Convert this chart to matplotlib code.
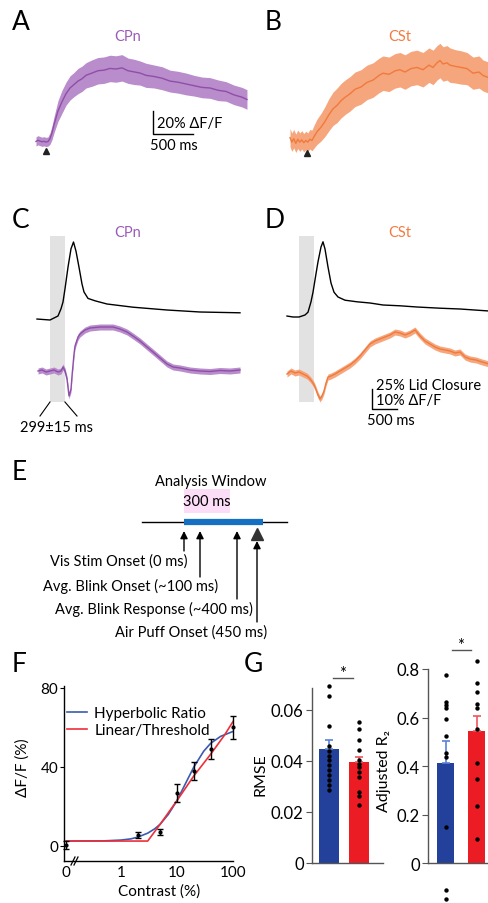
import numpy as np
import matplotlib
matplotlib.use("Agg")
import matplotlib.pyplot as plt
from matplotlib.lines import Line2D
from matplotlib.patches import Rectangle

plt.rcParams['font.family'] = ['Lato', 'DejaVu Sans']
plt.rcParams['axes.linewidth'] = 1.0

W, H = 489, 904

# ==========================================
# DATA
# ==========================================
# --- A: CPn response, time (ms) vs dF/F (%) ---
A_t = [-125, -100, -75, -50, -25, 0, 25, 50, 75, 100, 125, 150, 200, 250, 300, 350, 400, 450, 500,
       575, 650, 725, 800, 875, 950, 1025, 1100, 1175, 1250, 1350, 1450, 1550, 1650, 1750, 1850,
       1950, 2050, 2150, 2250, 2350, 2450, 2512]
A_mean = [0.5, 1.5, 0.8, 0.2, 0.6, 0.0, 0.4, 3, 8, 15, 21, 27, 35, 42, 47, 50, 53, 55, 58,
          60, 62, 62.5, 64, 63.5, 64.5, 62, 61, 60, 58, 57, 55.5, 53, 52, 50.5, 49,
          47.5, 47, 45, 44, 41, 39, 37]
A_sem = [4, 4, 4, 4, 4, 4, 4, 5, 6, 7, 8, 9, 10, 10, 10.5, 10.5, 11, 11, 11,
         11.5, 11.5, 11.5, 11.5, 11.5, 11.5, 11, 11, 10.5, 10.5, 10, 10, 9.5, 9.5, 9.5, 9,
         9, 9, 9, 8.5, 8.5, 8.5, 8.5]

# --- B: CSt response ---
B_t = [-212, -190, -165, -140, -115, -90, -65, -40, -15, 10, 35, 62, 90, 125, 175, 225, 275, 325,
       375, 425, 475, 537, 600, 675, 750, 825, 900, 950, 1025, 1100, 1162, 1225, 1300, 1375,
       1450, 1525, 1575, 1625, 1662, 1700, 1750, 1787, 1850, 1925, 2000, 2075, 2150, 2200, 2275]
B_mean = [3, -1, 2, -2, 1.5, -1, 1, -1.5, 0.5, -1, 1.5, 0.5, 4, 8, 12, 17, 23, 28,
          31, 35, 38, 41, 45, 47, 51, 53, 57, 59, 58, 61, 62, 60, 63, 64,
          62, 66, 64, 68, 70, 67, 68, 66, 65, 64, 63, 59, 60, 57, 55]
B_sem = [8, 8, 8, 8, 8, 8, 8, 8, 8, 8, 8.5, 9, 10, 11, 12, 13, 14, 14.5,
         15, 15, 15, 15, 15, 15, 15, 15, 15, 15, 15, 15, 15, 15, 15, 15,
         15, 15, 15, 15, 15, 15, 15, 15, 14.5, 14.5, 14, 14, 14, 13.5, 13.5]

# --- C: CPn, lid closure (%) and dF/F (%) aligned to blink window ---
C_window = 299
C_lid_t = [-260, 0, 160, 220, 260, 300, 360, 420, 470, 520, 580, 640, 680, 760, 900,
           1140, 1660, 2340, 3000, 3800]
C_lid = [1.2, 0, 5, 14, 22.5, 39, 66, 89, 97.5, 86, 66, 45, 35, 27, 24,
         20, 16, 12.5, 10, 9]
C_t = [-240, -160, -80, 0, 80, 160, 220, 260, 300, 340, 380, 420, 440, 480, 500, 560, 600,
       700, 800, 1000, 1140, 1260, 1400, 1540, 1660, 1800, 1940, 2060, 2200, 2340, 2460,
       2600, 2800, 3000, 3200, 3400, 3600, 3800]
C_mean = [0, 0.5, -0.5, 0, 0.5, -0.5, 0, 2, 0, -4, -12.5, -9, -2.5, 8.5, 12.5, 17, 18.5,
          20.5, 21.5, 22, 22, 22, 21, 19.5, 17.5, 15, 12, 9.5, 6.5, 3.5, 2,
          1.5, 0.5, 0, -0.25, 0.25, 0, 0.5]
C_sem = 1.5

# --- D: CSt ---
D_lid_t = [-240, -120, 0, 120, 180, 240, 280, 340, 380, 440, 480, 520, 580, 640, 700, 780,
           920, 1160, 1420, 1680, 2020, 2360, 2820, 3220, 3800]
D_lid = [1.2, 0, 0, 2.5, 6, 19, 31, 54, 69, 87.5, 94, 85, 62.5, 42.5, 31, 25,
         21, 19, 17.5, 15, 14, 12.5, 11, 10, 7.5]
D_t = [-240, -160, -80, 0, 80, 160, 220, 280, 320, 380, 420, 460, 500, 540, 580, 640, 720,
       820, 920, 1020, 1120, 1220, 1320, 1420, 1520, 1620, 1720, 1820, 1920, 2020, 2120,
       2220, 2320, 2420, 2520, 2620, 2720, 2820, 2920, 3020, 3120, 3220, 3320, 3420, 3540,
       3660, 3800]
D_mean = [-1, 0.5, -0.5, 0, -1, -2, -3.5, -5.5, -7.5, -11.5, -13.5, -12, -9.5, -5.5, -2.5, -2, -1,
          0.5, 2, 3.5, 5.5, 8, 11, 14, 15.5, 16.5, 17.5, 18.5, 20, 19.5, 18.5,
          19.5, 21, 18, 15.5, 14, 12.5, 11.5, 11, 10.5, 9.5, 10, 7.5, 6.5, 6,
          5, 4]
D_sem = 1.5

# --- E: trial schematic (schematic positions along the timeline) ---
E_line = (-42, 103)
E_window = (0, 79)
E_event_pos = [0, 16, 53, 73]
E_event_labels = ["Vis Stim Onset (0 ms)", "Avg. Blink Onset (~100 ms)",
                  "Avg. Blink Response (~400 ms)", "Air Puff Onset (450 ms)"]

# --- F: contrast response ---
F_contrast = [0, 2, 5, 10, 20, 40, 100]
F_mean = [0.5, 5.6, 7.2, 26.7, 38, 49, 60]
F_err = [2, 1.5, 1.5, 4.6, 4.6, 5, 5.6]
HR_c = [0, 0.5, 1, 1.5, 2, 3, 4, 5, 7, 10, 15, 20, 30, 40, 60, 100]
HR_v = [2.5, 2.6, 3.0, 3.6, 4.5, 6.5, 8.7, 11, 16, 23, 33, 40, 48, 52, 55.5, 58]
LT_c = [0, 3, 5, 10, 20, 40, 70, 100]
LT_v = [2.5, 2.5, 11, 23, 35.5, 46.5, 56, 63]
F_xticks = [0, 1, 10, 100]

# --- G: goodness of fit ---
rmse_hr = [0.0693, 0.0656, 0.0536, 0.0458, 0.0441, 0.0421, 0.0405, 0.0384, 0.0366,
           0.0345, 0.0327, 0.0306, 0.0288]
rmse_lt = [0.0554, 0.0525, 0.0482, 0.0444, 0.0405, 0.0388, 0.0375, 0.0356, 0.0336,
           0.0277, 0.0264, 0.0229]
rmse_bar = [0.0447, 0.0397]
rmse_sem = [0.0035, 0.0017]
r2_hr = [0.775, 0.663, 0.652, 0.638, 0.594, 0.525, 0.454, 0.436, 0.147, -0.111, -0.148]
r2_lt = [0.834, 0.741, 0.706, 0.656, 0.638, 0.553, 0.412, 0.346, 0.234, 0.099]
r2_bar = [0.412, 0.543]
r2_sem = [0.092, 0.062]

# colours
PURPLE, PURPLE_L = '#8E4FA8', '#B98CCB'
ORANGE, ORANGE_L = '#F07A3E', '#F6A67C'
BLUE_BAR, RED_BAR = '#23409A', '#EC1C24'
BLUE_ERR, RED_ERR = '#5A80D8', '#F2545C'

FS = 10.5   # general annotation size

# ==========================================
# FIGURE HELPERS
# ==========================================
fig = plt.figure(figsize=(W / 100, H / 100), dpi=100)


def box(x0, y0, x1, y1):
    return [x0 / W, 1 - y1 / H, (x1 - x0) / W, (y1 - y0) / H]


def trace_axes(x0, y0, x1, y1, t0_px, v0_px, ms_px, val_px):
    ax = fig.add_axes(box(x0, y0, x1, y1))
    ax.set_xlim((x0 - t0_px) * ms_px, (x1 - t0_px) * ms_px)
    ax.set_ylim((v0_px - y1) * val_px, (v0_px - y0) * val_px)
    ax.axis('off')
    return ax


def px2data(ax, x, y):
    return ax.transData.inverted().transform((x, H - y))


def ftext(x, y, s, **kw):
    kw.setdefault('va', 'center')
    fig.text(x / W, 1 - y / H, s, **kw)


def band(ax, t, m, s, dark, light):
    m = np.array(m, dtype=float)
    s = np.array(s, dtype=float) * np.ones_like(m)
    ax.fill_between(t, m - s, m + s, color=light, lw=0)
    ax.plot(t, m, color=dark, lw=1)


# panel letters
for lab, x, y in [('A', 12, 22), ('B', 265, 22), ('C', 12, 221), ('D', 265, 220),
                  ('E', 12, 473), ('F', 12, 664), ('G', 244, 665)]:
    ftext(x, y, lab, fontsize=19, ha='left')

# ==========================================
# A / B
# ==========================================
axA = trace_axes(30, 40, 250, 160, 46, 143, 12.5, 0.87)
band(axA, A_t, A_mean, A_sem, PURPLE, PURPLE_L)
tx, ty = px2data(axA, 46, 152)
axA.plot(0, ty, marker='^', color='#222222', ms=5, clip_on=False)
sx, sy = px2data(axA, 153, 135)
axA.plot([sx, sx, sx + 500], [sy + 20, sy, sy], color='k', lw=1, clip_on=False)
ftext(157, 124, '20% ΔF/F', fontsize=FS, ha='left')
ftext(150, 146, '500 ms', fontsize=FS, ha='left')
ftext(128, 37, 'CPn', fontsize=FS, ha='center', color='#9B5BB8')

axB = trace_axes(280, 40, 489, 160, 307, 142, 12.5, 0.87)
band(axB, B_t, B_mean, B_sem, ORANGE, ORANGE_L)
tx, ty = px2data(axB, 307, 154)
axB.plot(0, ty, marker='^', color='#222222', ms=5, clip_on=False)
ftext(400, 37, 'CSt', fontsize=FS, ha='center', color='#F47A40')

# ==========================================
# C / D
# ==========================================
LID_SCALE = 10 / 25   # 25 % lid closure drawn as tall as 10 % dF/F

axC = trace_axes(30, 237, 250, 403, 50, 372, 20, 0.5)
axC.axvspan(0, C_window, color='#E2E2E2', lw=0)
axC.plot(C_lid_t, np.array(C_lid) * LID_SCALE + 25.5, color='k', lw=1)
band(axC, C_t, C_mean, C_sem, PURPLE, PURPLE_L)
ybot = axC.get_ylim()[0]
for xe, xp in [(0, 40), (C_window, 77)]:
    ex, ey = px2data(axC, xp, 417)
    axC.plot([xe, ex], [ybot, ey], color='k', lw=0.8, clip_on=False)
ftext(57, 428, '299±15 ms', fontsize=FS, ha='center')
ftext(128, 233, 'CPn', fontsize=FS, ha='center', color='#9B5BB8')

axD = trace_axes(280, 237, 489, 403, 299, 373, 20, 0.5)
axD.axvspan(0, C_window, color='#E2E2E2', lw=0)
axD.plot(D_lid_t, np.array(D_lid) * LID_SCALE + 27.5, color='k', lw=1)
band(axD, D_t, D_mean, D_sem, ORANGE, ORANGE_L)
sx, sy = px2data(axD, 372, 410)
axD.plot([sx, sx, sx + 500], [sy + 10, sy, sy], color='k', lw=1, clip_on=False)
ftext(376, 386, '25% Lid Closure', fontsize=FS, ha='left')
ftext(376, 401, '10% ΔF/F', fontsize=FS, ha='left')
ftext(367, 421, '500 ms', fontsize=FS, ha='left')
ftext(400, 233, 'CSt', fontsize=FS, ha='center', color='#F47A40')

# ==========================================
# E: schematic
# ==========================================
axE = fig.add_axes(box(40, 470, 320, 645))
axE.set_xlim(40 - 184, 320 - 184)
axE.set_ylim(523 - 645, 523 - 470)
axE.axis('off')
axE.add_patch(Rectangle((E_window[0], 9), 46, 24, color='#FBDDF8', lw=0))
axE.text(23, 21, '300 ms', fontsize=FS, ha='center', va='center')
axE.text(27, 41, 'Analysis Window', fontsize=FS, ha='center', va='center')
axE.plot(E_line, [0, 0], color='k', lw=1)
axE.plot(E_window, [0, 0], color='#1670C2', lw=4.5, solid_capstyle='butt')
tails = [-29, -55, -77, -100]
tips = [-9, -9, -9, -19]
text_right = [4, 34, 69, 83]
text_y = [-39, -63, -86, -110]
for pos, tail, tip, lab, xr, yt in zip(E_event_pos, tails, tips, E_event_labels, text_right, text_y):
    axE.annotate('', xy=(pos, tip), xytext=(pos, tail),
                 arrowprops=dict(arrowstyle='-|>', color='k', lw=1, mutation_scale=11,
                                 shrinkA=0, shrinkB=0))
    axE.text(xr, yt, lab, fontsize=FS, ha='right', va='center')
axE.plot(E_event_pos[-1], -12, marker='^', color='#333333', ms=8)

# ==========================================
# F: contrast response
# ==========================================
ZERO_POS = 0.105   # where contrast 0 is drawn on the broken log axis
axF = fig.add_axes(box(64, 687, 233, 862))
axF.set_xscale('log')
axF.set_xlim(0.096, 100)
axF.set_ylim(-7.6, 81)
fc = [ZERO_POS if c == 0 else c for c in F_contrast]
hc = [ZERO_POS if c == 0 else c for c in HR_c]
lc = [ZERO_POS if c == 0 else c for c in LT_c]
axF.plot(hc, HR_v, color='#3A5BB0', lw=1.2, label='Hyperbolic Ratio')
axF.plot(lc, LT_v, color='#EE2F38', lw=1.2, label='Linear/Threshold')
axF.errorbar(fc, F_mean, yerr=F_err, fmt='o', color='k', ms=2, lw=1, capsize=2,
             capthick=1, clip_on=False, zorder=4)
axF.spines[['top', 'right']].set_visible(False)
axF.set_xticks([ZERO_POS if c == 0 else c for c in F_xticks])
axF.set_xticklabels([str(c) for c in F_xticks])
axF.xaxis.set_minor_locator(plt.NullLocator())
axF.set_yticks([0, 40, 80])
axF.tick_params(labelsize=11, length=3, pad=1)
axF.tick_params(axis='x', length=0, pad=3)
axF.set_ylabel('ΔF/F (%)', fontsize=11)
axF.yaxis.set_label_coords(-0.2, 0.54)
axF.set_xlabel('Contrast (%)', fontsize=11)
axF.xaxis.set_label_coords(0.56, -0.13)
axF.legend(loc='upper left', bbox_to_anchor=(-0.02, 0.92), frameon=False, fontsize=11,
           handlelength=1.3, handletextpad=0.5, labelspacing=0.2, borderaxespad=0)
for dx in (0, 3):
    fig.add_artist(Line2D([(71 + dx) / W, (75 + dx) / W], [1 - 866 / H, 1 - 858 / H],
                          color='k', lw=0.9))

# ==========================================
# G: RMSE and adjusted R2
# ==========================================
def bar_panel(ax, bars, sems, dots_list, width):
    ax.bar([0, 1], bars, width=width, color=[BLUE_BAR, RED_BAR], zorder=1)
    for i, (m, s, c) in enumerate(zip(bars, sems, [BLUE_ERR, RED_ERR])):
        ax.errorbar(i, m, yerr=[[0], [s]], color=c, lw=1.2, capsize=3, capthick=1.2, zorder=2)
    for i, d in enumerate(dots_list):
        ax.scatter(np.full(len(d), i), d, s=10, color='k', zorder=3, clip_on=False, lw=0)
    ax.spines[['top', 'right']].set_visible(False)
    for sp in ('left', 'bottom'):
        ax.spines[sp].set_color('#555555')
    ax.set_xticks([])
    ax.tick_params(axis='y', labelsize=12, length=4, color='#555555', pad=2)


axG1 = fig.add_axes(box(312, 689, 383, 864))
axG1.set_xlim(-0.567, 1.8)
axG1.set_ylim(0, 0.0686)
bar_panel(axG1, rmse_bar, rmse_sem, [rmse_hr, rmse_lt], 0.667)
axG1.set_yticks([0, 0.02, 0.04, 0.06])
axG1.set_yticklabels(['0', '0.02', '0.04', '0.06'])
axG1.set_ylabel('RMSE', fontsize=11.5)
axG1.yaxis.set_label_coords(-0.62, 0.51)
(a0, b0), (a1, b1) = px2data(axG1, 333, 679), px2data(axG1, 353, 679)
axG1.plot([a0, a1], [b0, b1], color='#555555', lw=1, clip_on=False)
ftext(343, 674, '*', fontsize=12, ha='center')

axG2 = fig.add_axes(box(428, 665, 500, 905))
axG2.set_xlim(-0.565, 1.758)
axG2.set_ylim(-0.169, 0.8206)
bar_panel(axG2, r2_bar, r2_sem, [r2_hr, r2_lt], 0.55)
axG2.spines['left'].set_bounds(0, 0.8)
axG2.spines['bottom'].set_position(('data', 0))
axG2.set_yticks([0, 0.2, 0.4, 0.6, 0.8])
axG2.set_yticklabels(['0', '0.2', '0.4', '0.6', '0.8'])
axG2.set_ylabel('Adjusted R₂', fontsize=11.5)
axG2.yaxis.set_label_coords(-0.52, 0.56)
(a0, b0), (a1, b1) = px2data(axG2, 452, 651), px2data(axG2, 471, 651)
axG2.plot([a0, a1], [b0, b1], color='#555555', lw=1, clip_on=False)
ftext(461, 646, '*', fontsize=12, ha='center')

fig.savefig('out.png', dpi=100)
